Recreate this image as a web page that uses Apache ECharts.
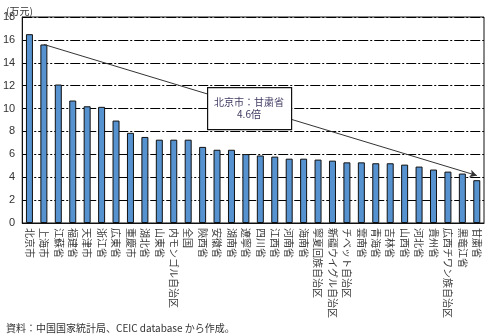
<!DOCTYPE html>
<html>
<head>
<meta charset="utf-8">
<script src="https://cdn.jsdelivr.net/npm/echarts@6/dist/echarts.min.js"></script>
<style>
html,body{margin:0;padding:0;background:#fff;}
#chart{width:489px;height:335px;}
</style>
</head>
<body>
<div id="chart"></div>
<script>
const categories = ['北京市','上海市','江蘇省','福建省','天津市','浙江省','広東省','重慶市','湖北省','山東省','内モンゴル自治区','全国','陝西省','安徽省','湖南省','遼寧省','四川省','江西省','河南省','海南省','寧夏回族自治区','新疆ウイグル自治区','チベット自治区','雲南省','青海省','吉林省','山西省','河北省','貴州省','広西チワン族自治区','黒竜江省','甘粛省'];
const values = [16.5,15.6,12.1,10.7,10.2,10.15,8.95,7.88,7.52,7.28,7.28,7.28,6.65,6.4,6.4,6.02,5.9,5.8,5.62,5.62,5.54,5.45,5.3,5.3,5.22,5.22,5.1,4.93,4.67,4.49,4.32,3.74];
const yTicks = {min:0, max:18, interval:2};
const unitLabel = '(万元)';
const sourceNote = '資料：中国国家統計局、CEIC database から作成。';
const ratioText = ['北京市：甘粛省','4.6倍'];
const arrowFrom = ['上海市', 15.6];
const arrowTo = ['甘粛省', 4.15];

const FONT = '"Noto Sans CJK JP", "Noto Sans", sans-serif';
const chart = echarts.init(document.getElementById('chart'));
chart.setOption({
  animation:false,
  textStyle:{fontFamily:FONT},
  title:[
    {text:unitLabel,left:1,top:1,textStyle:{fontSize:10,fontWeight:'normal',color:'#333',fontFamily:FONT}},
    {text:sourceNote,left:1,top:318,textStyle:{fontSize:10,fontWeight:'normal',color:'#333',fontFamily:FONT}}
  ],
  grid:{left:22,right:5,top:17,bottom:112,show:true,borderColor:'#111',borderWidth:1,backgroundColor:'transparent'},
  xAxis:{
    type:'category',data:categories,
    axisLine:{lineStyle:{color:'#111',width:1}},
    axisTick:{show:false},
    axisLabel:{interval:0,rotate:-90,fontSize:10,color:'#3a3a3a',margin:5,fontFamily:FONT}
  },
  yAxis:{
    type:'value',min:yTicks.min,max:yTicks.max,interval:yTicks.interval,
    axisLine:{show:true,lineStyle:{color:'#111',width:1}},
    axisTick:{show:false},
    axisLabel:{fontSize:11,color:'#333',margin:7,fontFamily:'"Liberation Sans", Arial, sans-serif'},
    splitLine:{show:true,lineStyle:{color:'#000',width:1.2,type:[10,2,2,2]}}
  },
  series:[{
    type:'bar',data:values,barWidth:7,
    itemStyle:{color:'#5592cf',borderColor:'#111',borderWidth:1},
    markLine:{
      silent:true,animation:false,
      symbol:['none','arrow'],symbolSize:[6,7],
      label:{show:false},
      lineStyle:{color:'#333',width:1,type:'solid'},
      data:[[{coord:arrowFrom},{coord:arrowTo}]]
    }
  }],
  graphic:[
    {type:'rect',left:207,top:87,z:100,shape:{width:84,height:42},style:{fill:'#fff',stroke:'#111',lineWidth:1.2}},
    {type:'text',z:101,style:{text:ratioText.join('\n'),x:249,y:96,textAlign:'center',fontSize:10,lineHeight:12,fill:'#3f3a62',fontFamily:FONT}}
  ]
});
</script>
</body>
</html>
